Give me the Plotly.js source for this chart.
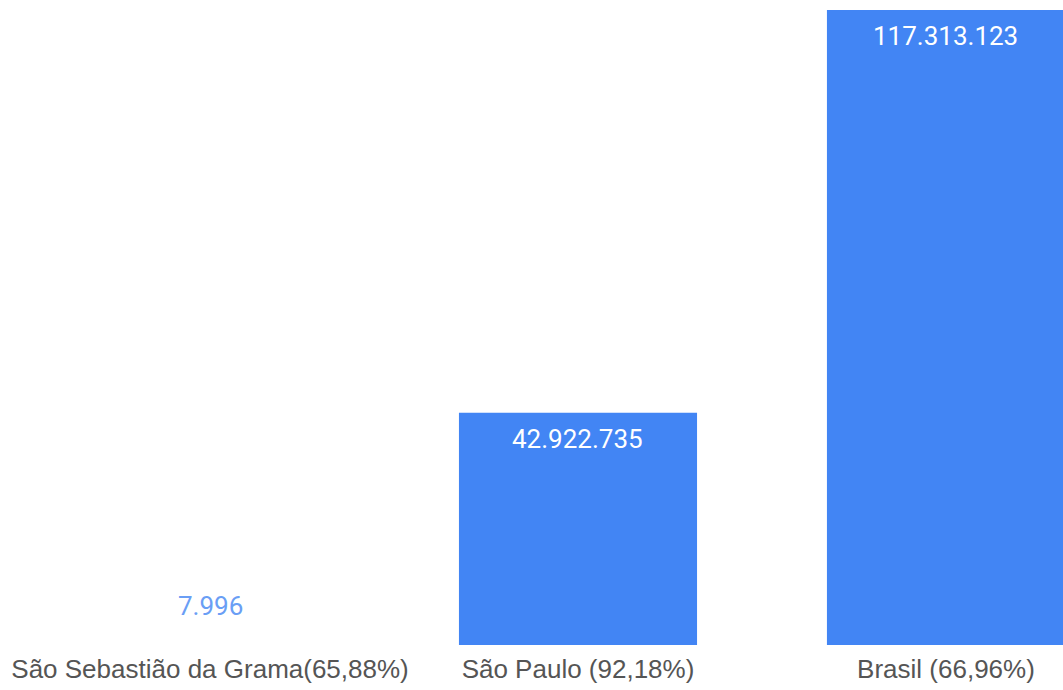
<!DOCTYPE html>
<html>
<head>
<meta charset="utf-8">
<script src="https://cdn.plot.ly/plotly-3.0.1.min.js"></script>
<style>html,body{margin:0;padding:0;background:#fff;}#chart{width:1063px;height:690px;}</style>
</head>
<body>
<div id="chart"></div>
<script>
const categories = ["São Sebastião da Grama(65,88%)", "São Paulo (92,18%)", "Brasil (66,96%)"];
const values = [7996, 42922735, 117313123];
const insideLabel = [false, true, true];

const barColor = "#4285F4";

const trace = {
  type: "bar",
  x: categories,
  y: values,
  marker: {color: barColor},
  hoverinfo: "none"
};

const annotations = categories.map((c, i) => ({
  x: c, y: values[i], xref: "x", yref: "y",
  text: values[i].toLocaleString("de-DE"),
  showarrow: false,
  yanchor: "middle",
  yshift: insideLabel[i] ? -26 : 39,
  font: {family: "Roboto, sans-serif", size: 26, color: insideLabel[i] ? "#ffffff" : "#6a9ef5"}
}));

const layout = {
  width: 1063, height: 690,
  margin: {l: 0, r: 0, t: 10, b: 45},
  separators: ",.",
  bargap: 0.353,
  showlegend: false,
  paper_bgcolor: "#ffffff",
  plot_bgcolor: "#ffffff",
  xaxis: {
    type: "category",
    range: [-0.5707, 2.318],
    showgrid: false, zeroline: false, showline: false, ticks: "",
    ticklabelstandoff: 6,
    tickfont: {family: "Liberation Sans, Arial, sans-serif", size: 26, color: "#555555"}
  },
  yaxis: {
    range: [0, 117313123],
    showgrid: false, zeroline: false, showline: false, showticklabels: false, ticks: ""
  },
  annotations: annotations
};

Plotly.newPlot("chart", [trace], layout, {displayModeBar: false, staticPlot: true});
</script>
</body>
</html>
